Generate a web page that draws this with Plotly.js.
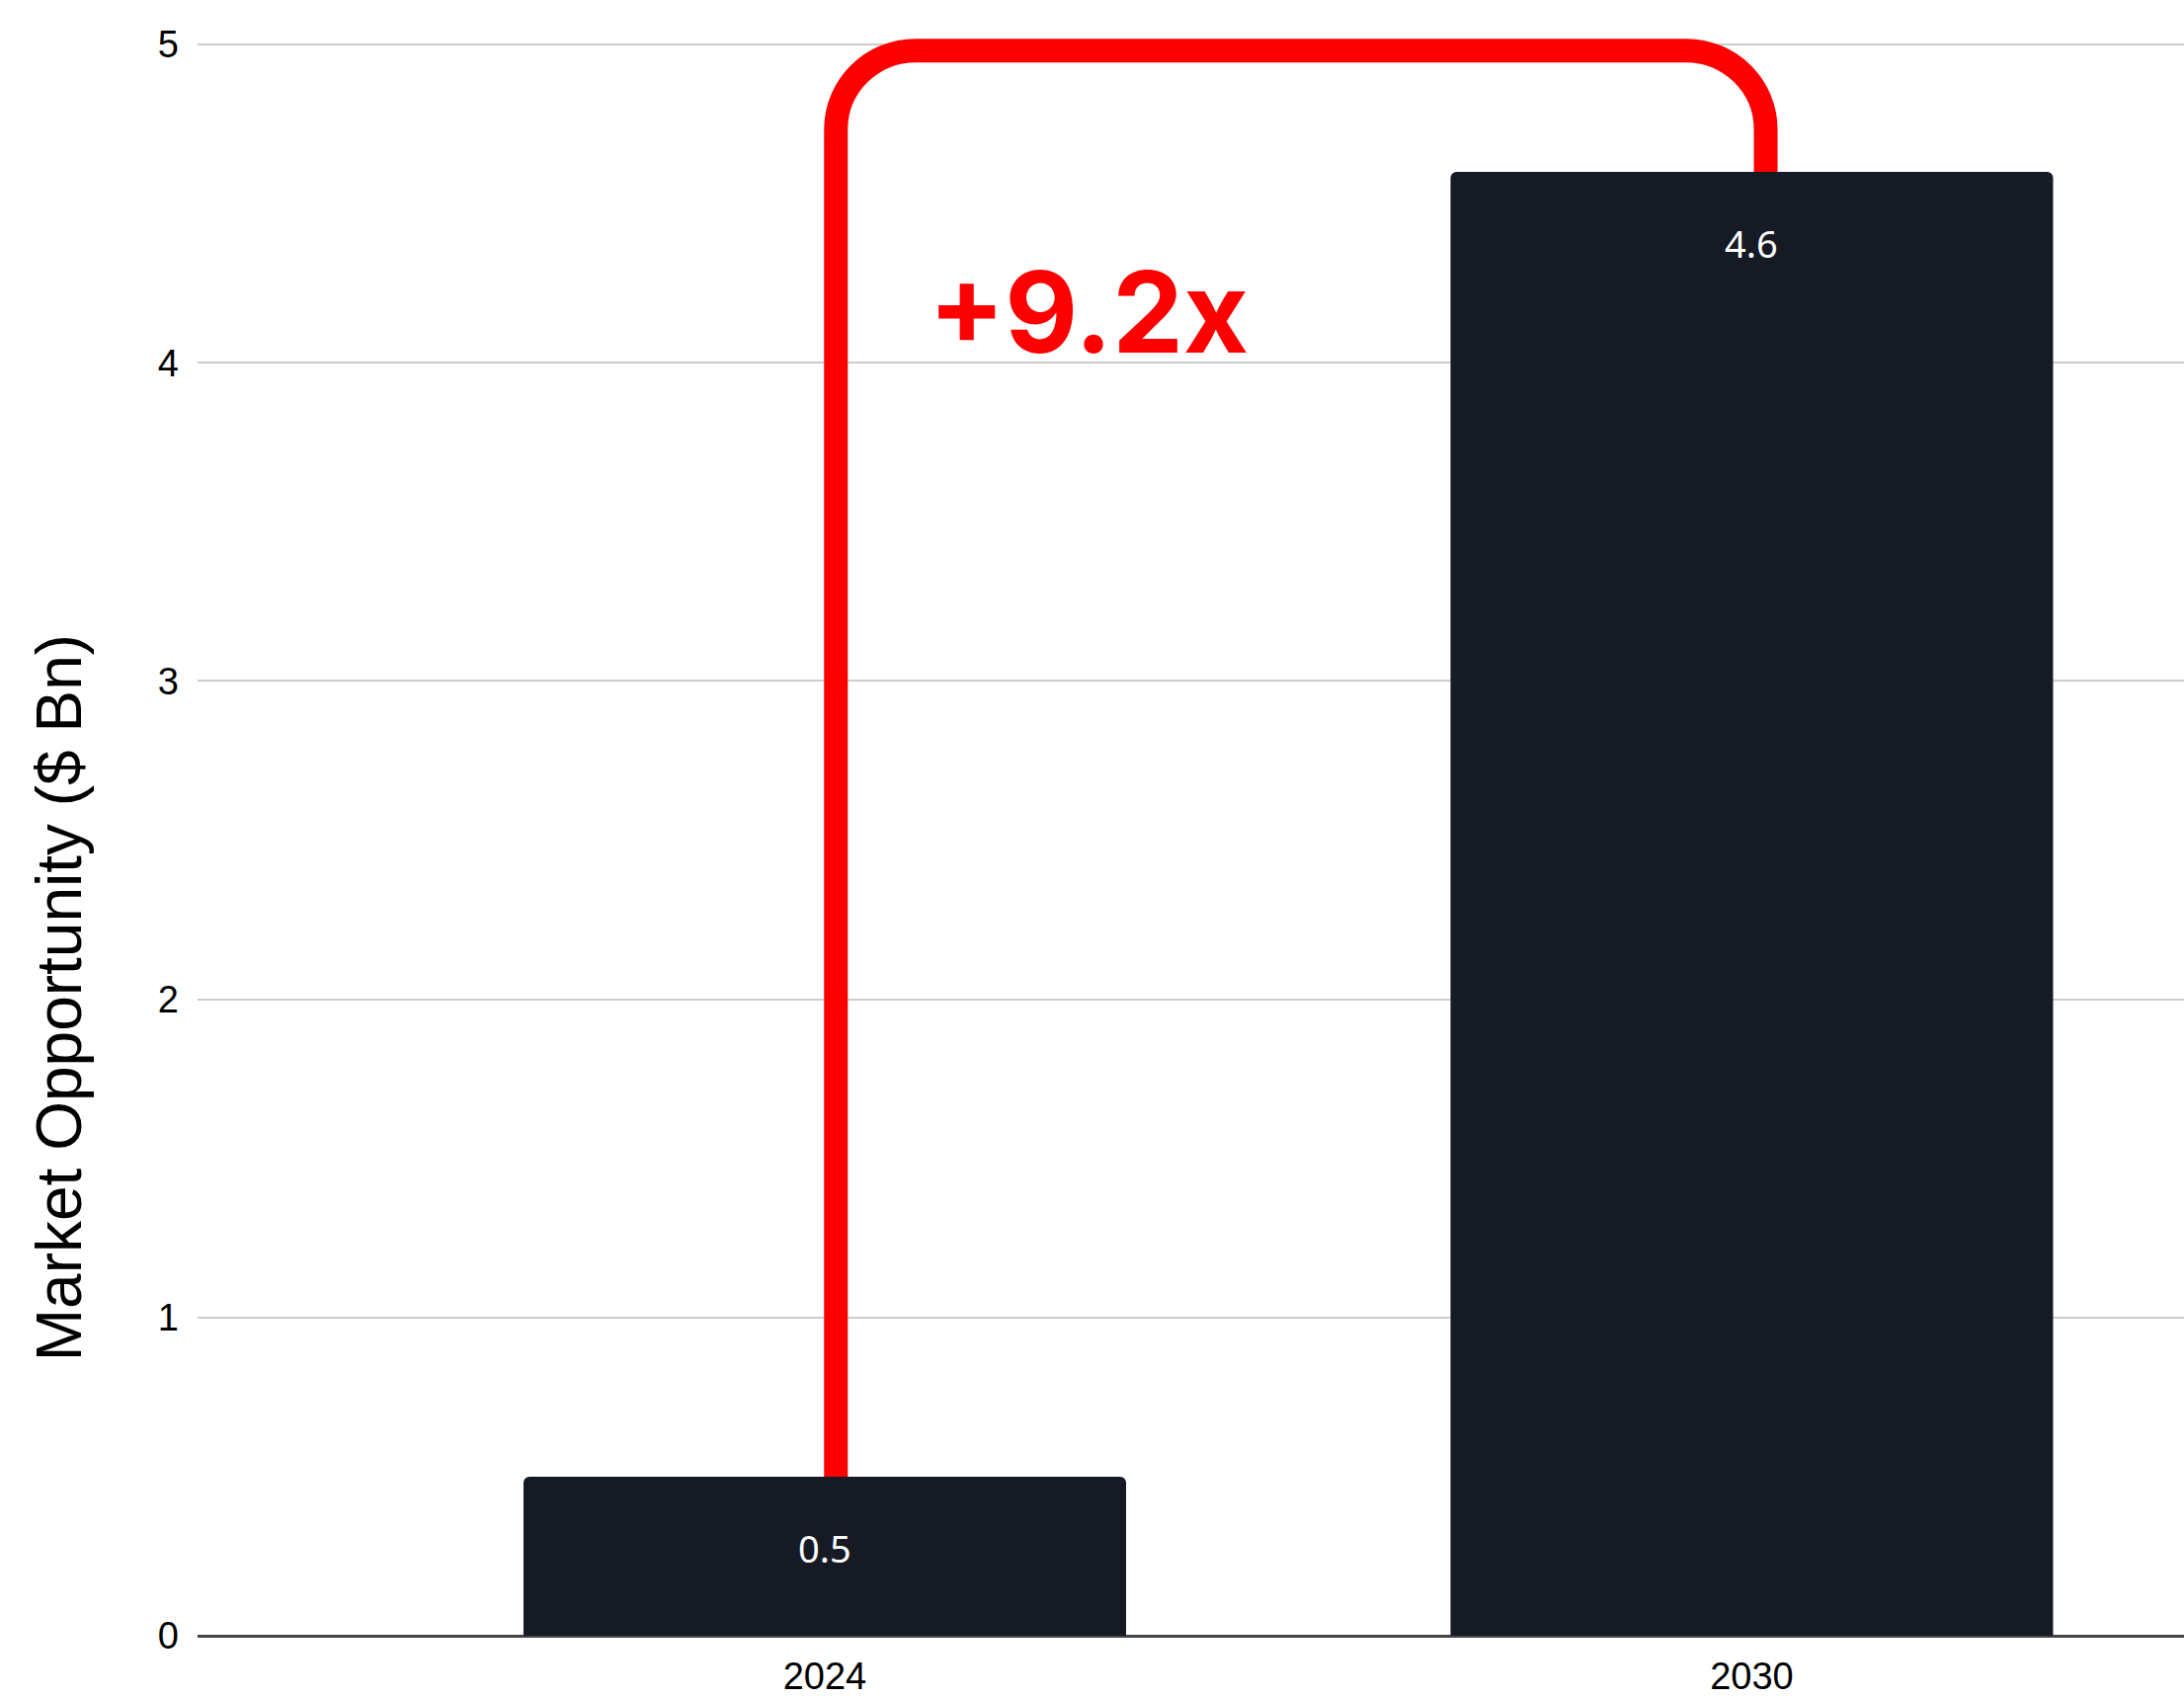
<!DOCTYPE html>
<html>
<head>
<meta charset="utf-8">
<script src="https://cdn.plot.ly/plotly-3.0.1.min.js"></script>
<style>html,body{margin:0;padding:0;background:#fff;}#chart{width:2211px;height:1718px;}</style>
</head>
<body>
<div id="chart"></div>
<script>
// ---- data ----
const years = ["2024", "2030"];
const marketBn = [0.5, 4.6];
const yTickVals = [0, 1, 2, 3, 4, 5];
const yAxisTitle = "Market Opportunity ($ Bn)";

// ---- derived ----
const xIdx = years.map((_, i) => i);
const growth = "+" + (marketBn[1] / marketBn[0]).toFixed(1) + "x";

// connector geometry (data units)
const x0 = 0.012, x1 = 1.015, yTop = 4.981, rX = 0.0863, rY = 0.248, k = 0.552;
const connector =
  `M ${x0},${marketBn[0]} V ${yTop - rY} ` +
  `C ${x0},${yTop - rY + rY * k} ${x0 + rX * (1 - k)},${yTop} ${x0 + rX},${yTop} ` +
  `H ${x1 - rX} ` +
  `C ${x1 - rX * (1 - k)},${yTop} ${x1},${yTop - rY + rY * k} ${x1},${yTop - rY} ` +
  `V ${marketBn[1]}`;

const trace = {
  type: "bar",
  x: xIdx,
  y: marketBn,
  width: 0.65,
  marker: { color: "#161a25", cornerradius: 6 },
  hoverinfo: "skip",
  showlegend: false
};

const annotations = marketBn.map((v, i) => ({
  x: i, y: v, xref: "x", yref: "y",
  text: String(v), showarrow: false,
  yanchor: "middle", yshift: -72,
  font: { family: "Noto Sans, Open Sans, sans-serif", size: 38, color: "#ffffff" }
}));

annotations.push({
  x: 0.284, y: 4.162, xref: "x", yref: "y",
  text: "<b>" + growth + "</b>", showarrow: false,
  xanchor: "center", yanchor: "middle",
  font: { family: "Inter, Lato, sans-serif", size: 114, color: "#ff0000", weight: 800 }
});

annotations.push({
  x: -0.0696, y: 0.39, xref: "paper", yref: "paper",
  text: yAxisTitle, showarrow: false, textangle: -90,
  xanchor: "center", yanchor: "middle",
  font: { family: "Liberation Sans, Arial, sans-serif", size: 64, color: "#000000" }
});

const layout = {
  width: 2211, height: 1718,
  margin: { l: 200, r: 0, t: 0, b: 62 },
  paper_bgcolor: "#ffffff", plot_bgcolor: "#ffffff",
  xaxis: {
    range: [-0.6766, 1.4662],
    tickvals: xIdx, ticktext: years,
    showgrid: false, zeroline: false, showline: false, ticks: "",
    ticklabelstandoff: 15,
    tickfont: { family: "Liberation Sans, Arial, sans-serif", size: 38, color: "#000000" }
  },
  yaxis: {
    range: [0, 5.1397],
    tickvals: yTickVals,
    showgrid: true, gridcolor: "#cccccc", gridwidth: 2,
    zeroline: true, zerolinecolor: "#444444", zerolinewidth: 3,
    showline: false, ticks: "",
    ticklabelstandoff: 18,
    tickfont: { family: "Liberation Sans, Arial, sans-serif", size: 38, color: "#000000" }
  },
  shapes: [{
    type: "path", path: connector, xref: "x", yref: "y",
    layer: "between",
    line: { color: "#ff0000", width: 24 }
  }],
  annotations: annotations
};

Plotly.newPlot("chart", [trace], layout, { staticPlot: true, displayModeBar: false });
</script>
</body>
</html>
